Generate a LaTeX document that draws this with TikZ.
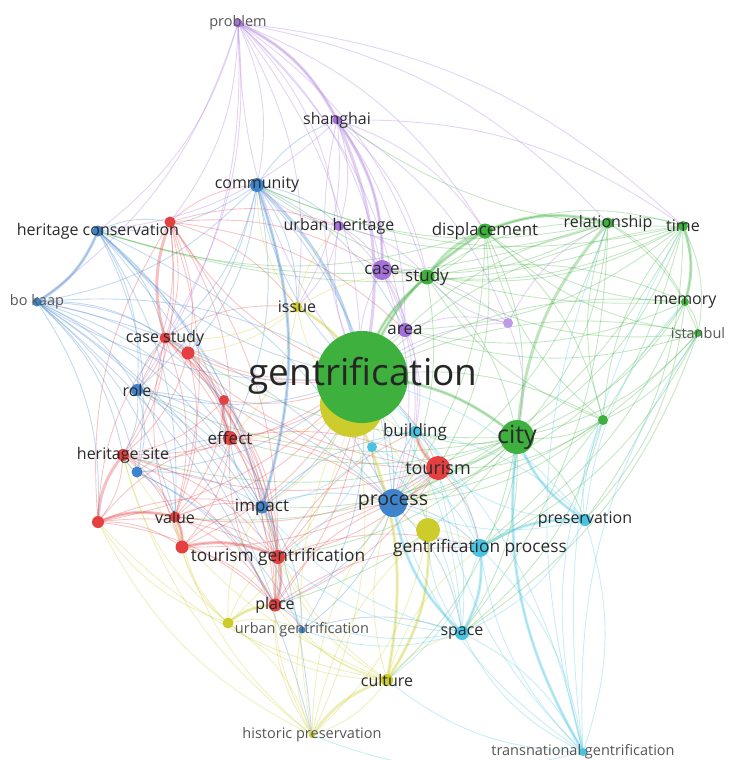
\documentclass[tikz,border=0pt]{standalone}
\usepackage{fontspec}
\setmainfont{Open Sans}

\definecolor{vred}{RGB}{228,64,66}
\definecolor{vgreen}{RGB}{62,176,62}
\definecolor{vblue}{RGB}{62,132,204}
\definecolor{vyellow}{RGB}{204,204,44}
\definecolor{vpurple}{RGB}{164,112,218}
\definecolor{vcyan}{RGB}{72,196,226}
\definecolor{lblgray}{RGB}{42,42,42}
\definecolor{softgray}{RGB}{85,85,85}

\pgfdeclarelayer{links}
\pgfsetlayers{links,main}

\tikzset{
  kw/.style={circle, fill=#1, draw=none, inner sep=0pt},
  lbl/.style={text=lblgray, inner sep=0pt},
  softlbl/.style={text=softgray, inner sep=0pt, font=\fontsize{14.5}{14.5}\selectfont},
  link/.style={draw=#1, draw opacity=.3, line width=.9pt},
  heavy/.style={draw=#1, draw opacity=.33, line width=3pt},
}

\begin{document}
\begin{tikzpicture}[x=1pt, y=-1pt]
\useasboundingbox (0,0) rectangle (730,760);

% keywords
\node[kw=vyellow, minimum size=64pt] (genY) at (352,405) {};
\node[kw=vgreen, minimum size=92pt] (gen) at (362,377) {};
\foreach \n/\c/\d/\x/\y in {
  problem/vpurple/9/238/23, shanghai/vpurple/9/337/120,
  community/vblue/14/257/185, urbher/vpurple/10/339/226,
  hercons/vblue/11/98/231, redA/vred/11/170/222,
  displ/vgreen/15/485/231, relat/vgreen/11/608/223,
  time/vgreen/10/683/226, case/vpurple/20/382/270,
  study/vgreen/15/427/277, issue/vyellow/10/297/307,
  area/vpurple/14/405/330, purpA/vpurple!70/10/508/323,
  memory/vgreen/8/685/302, istanbul/vgreen/8/698/333,
  bokaap/vblue/9/37/302, casest/vred/11/165/338,
  redB/vred/13/188/353, role/vblue/12/137/390,
  redC/vred/10/224/400, effect/vred/14/230/438,
  hersite/vred/12/123/455, blueA/vblue/11/137/472,
  redD/vred/12/98/522, value/vred/11/175/517,
  impact/vblue/13/262/507, redE/vred/13/182/547,
  tourgen/vred/14/278/557, place/vred/13/275/605,
  yelA/vyellow/11/228/623, urbgen/vblue/7/302/630,
  histpres/vyellow/6/312/735, building/vcyan/12/415/432,
  cyanA/vcyan/10/372/447, city/vgreen/34/517/437,
  greenA/vgreen/10/603/420, tourism/vred/24/438/468,
  process/vblue/28/393/503, yelB/vyellow/24/428/530,
  genproc/vcyan/18/480/548, preserv/vcyan/12/585/520,
  space/vcyan/14/462/633, culture/vyellow/12/387/680,
  transgen/vcyan/8/583/752}
  \node[kw=\c, minimum size=\d pt] (\n) at (\x,\y) {};

% labels
\node[lbl, text=black!85, font=\fontsize{37}{37}\selectfont] (gen-t) at (363,376) {gentrification};
\foreach \n/\s/\t in {
  shanghai/16/shanghai, community/16/community, urbher/16/urban heritage,
  hercons/16/heritage conservation, displ/17/displacement,
  relat/16/relationship, time/16/time, case/17/case, study/17/study,
  issue/16/issue, area/17/area, memory/16/memory, casest/16/case study,
  role/16/role, effect/17/effect, hersite/16/heritage site, value/16/value,
  impact/17/impact, tourgen/17.3/tourism gentrification, place/16/place,
  building/17/building, city/25/city, tourism/18/tourism, process/19.5/process,
  genproc/17.3/gentrification process, preserv/16/preservation,
  space/16/space, culture/16/culture}
  \node[lbl, font=\fontsize{\s}{\s}\selectfont] (\n-t) at (\n) {\t};
\foreach \n/\t in {problem/problem, istanbul/istanbul, bokaap/bo kaap,
  urbgen/urban gentrification, histpres/historic preservation,
  transgen/transnational gentrification}
  \node[softlbl] (\n-t) at (\n) {\t};

\begin{pgfonlayer}{links}
% green cluster
\foreach \a/\b in {gen/displ, gen/relat, gen/time, gen/memory, gen/istanbul,
  gen/city, gen/greenA, gen/study, displ/relat, displ/time, displ/study,
  displ/city, relat/time, relat/memory, relat/istanbul, relat/city,
  time/memory, time/istanbul, time/city, time/study, memory/istanbul,
  memory/city, istanbul/city, istanbul/greenA, greenA/city, greenA/relat,
  greenA/time, study/city, city/tourism, city/process, city/genproc,
  city/preserv, city/space, displ/greenA, study/relat, study/memory,
  istanbul/study, istanbul/displ, time/community, relat/urbher,
  displ/hercons, time/case, memory/area, city/building, city/effect,
  city/impact, city/tourgen, relat/process, time/process, istanbul/process,
  displ/process, greenA/process, memory/process, relat/hercons,
  time/shanghai, time/genproc, memory/genproc, time/hercons, relat/community,
  memory/community, istanbul/area, greenA/study, greenA/displ, memory/displ,
  city/casest, city/role, city/value, city/place, greenA/space,
  relat/space, time/preserv, memory/preserv, istanbul/space, displ/tourism,
  study/process, relat/case, time/area, istanbul/genproc, greenA/tourism,
  city/hersite, city/culture}
  \draw[link=vgreen] (\a.center) to[bend left=18] (\b.center);
\foreach \a/\b in {gen/displ, displ/relat, gen/study, gen/city, study/displ,
  city/relat, time/memory}
  \draw[heavy=vgreen] (\a.center) to[bend left=18] (\b.center);
% red cluster
\foreach \a/\b in {gen/casest, gen/redB, gen/redC, gen/effect, gen/hersite,
  gen/redD, gen/value, gen/redE, gen/tourgen, gen/place, gen/tourism,
  gen/redA, redA/casest, redA/effect, redA/hersite, redA/community,
  redA/value, redA/tourgen, casest/redB, casest/hersite, casest/value,
  casest/effect, casest/tourgen, casest/role, redB/effect, redB/redC,
  redC/effect, redC/tourgen, effect/hersite, effect/tourgen, effect/value,
  effect/tourism, hersite/redD, hersite/value, hersite/tourgen, redD/value,
  redD/redE, redD/tourgen, redD/casest, redD/place, value/redE,
  value/tourgen, redE/tourgen, redE/place, redE/casest, tourgen/place,
  tourgen/impact, place/urbgen, place/effect, tourism/tourgen,
  tourism/building, tourism/process, tourism/value, tourism/place,
  tourism/casest, tourism/genproc, redB/tourgen, redA/issue, casest/issue,
  place/process, tourgen/process, value/impact, redD/effect, hersite/place,
  redA/redB, redD/redA, redB/value, redA/urbher, redA/area, redA/case,
  redB/hersite, redB/place, redC/hersite, redC/value, redC/place,
  effect/place, effect/redE, hersite/redE, casest/place, value/place,
  tourgen/building, tourism/redE, tourism/hersite, tourism/redC,
  place/genproc, tourgen/genproc, redE/impact, redD/impact, redA/role,
  casest/impact, effect/process}
  \draw[link=vred] (\a.center) to[bend left=18] (\b.center);
\foreach \a/\b in {redD/value, value/redE, redE/tourgen, tourgen/place,
  effect/redC, tourism/building, casest/redA, redD/hersite}
  \draw[heavy=vred] (\a.center) to[bend left=18] (\b.center);
% blue cluster
\foreach \a/\b in {gen/community, gen/hercons, gen/bokaap, gen/role,
  gen/blueA, gen/impact, gen/process, gen/urbgen, community/hercons,
  community/bokaap, community/urbher, community/role, community/impact,
  community/process, community/shanghai, community/casest, hercons/bokaap,
  hercons/role, hercons/casest, hercons/blueA, hercons/impact, hercons/redA,
  bokaap/role, bokaap/casest, bokaap/hersite, bokaap/blueA, bokaap/impact,
  bokaap/value, bokaap/process, bokaap/effect, bokaap/redB, bokaap/redC,
  role/blueA, role/hersite, role/impact, role/process, role/casest,
  blueA/impact, blueA/urbgen, blueA/hersite, impact/process, impact/urbgen,
  process/urbgen, process/genproc, process/space, process/building,
  process/tourism, urbgen/space, bokaap/gen, hercons/process,
  bokaap/histpres, bokaap/urbgen, bokaap/place, bokaap/redD, hercons/histpres,
  hercons/effect, hercons/tourgen, hercons/value, community/effect,
  community/redB, community/issue, community/area, role/effect, role/value,
  role/tourgen, blueA/value, blueA/effect, blueA/place, impact/place,
  impact/effect, impact/building, process/place, process/cyanA}
  \draw[link=vblue] (\a.center) to[bend left=18] (\b.center);
\foreach \a/\b in {community/gen, community/impact, hercons/bokaap}
  \draw[heavy=vblue] (\a.center) to[bend left=18] (\b.center);
% purple cluster
\foreach \a/\b in {gen/problem, gen/shanghai, gen/urbher, gen/case,
  gen/area, gen/purpA, problem/shanghai, problem/urbher, problem/community,
  problem/case, problem/area, problem/hercons, problem/displ, problem/issue,
  problem/casest, problem/role, problem/study, shanghai/urbher,
  shanghai/case, shanghai/area, shanghai/study, shanghai/purpA,
  shanghai/hercons, shanghai/displ, urbher/case, urbher/area, case/area,
  area/purpA, case/purpA, urbher/issue, area/process, case/process,
  purpA/city, problem/gen, problem/bokaap, problem/redA, problem/time,
  problem/relat, shanghai/issue, shanghai/time, urbher/study, case/study,
  case/building, area/building, purpA/relat, purpA/study, urbher/community}
  \draw[link=vpurple] (\a.center) to[bend left=18] (\b.center);
\foreach \a/\b in {problem/shanghai, shanghai/case, shanghai/gen}
  \draw[heavy=vpurple] (\a.center) to[bend left=18] (\b.center);
% yellow cluster
\foreach \a/\b in {genY/issue, genY/yelB, genY/culture, genY/histpres,
  genY/yelA, issue/casest, issue/community, issue/urbher, yelB/culture,
  yelB/histpres, yelB/process, culture/histpres, culture/yelA, yelA/place,
  yelA/histpres, yelA/tourgen, yelA/value, culture/process, culture/genproc,
  histpres/urbgen, histpres/process, histpres/redD, histpres/hersite,
  culture/space, culture/urbgen, culture/impact, histpres/yelB, yelA/urbgen,
  issue/gen, histpres/gen, yelA/redD, yelA/hersite, yelA/redE, yelA/impact,
  histpres/value, histpres/tourgen, histpres/place, culture/place,
  culture/tourgen, culture/redD, culture/hersite, yelB/tourism, yelB/genproc,
  issue/redB, issue/effect, issue/study, genY/effect, genY/impact,
  genY/tourism}
  \draw[link=vyellow] (\a.center) to[bend left=18] (\b.center);
\foreach \a/\b in {genY/culture, yelB/culture, yelA/place, histpres/culture,
  issue/gen}
  \draw[heavy=vyellow] (\a.center) to[bend left=18] (\b.center);
% cyan cluster
\foreach \a/\b in {gen/building, gen/cyanA, gen/genproc, gen/preserv,
  gen/space, gen/transgen, building/genproc, building/preserv, cyanA/space,
  cyanA/building, cyanA/genproc, genproc/preserv, genproc/space,
  genproc/transgen, preserv/space, preserv/transgen, space/transgen,
  preserv/city, transgen/city, transgen/process, transgen/culture,
  transgen/histpres, transgen/relat, transgen/time, space/urbgen,
  space/yelB, genproc/yelB, space/process, preserv/process,
  transgen/istanbul, transgen/greenA, transgen/space, transgen/genproc,
  transgen/tourism, space/tourgen, space/place, space/impact,
  preserv/tourism, preserv/greenA, building/space, building/process,
  cyanA/tourgen, cyanA/impact, genproc/culture, preserv/memory}
  \draw[link=vcyan] (\a.center) to[bend left=18] (\b.center);
\foreach \a/\b in {genproc/space, space/process, preserv/city,
  genproc/preserv, transgen/city}
  \draw[heavy=vcyan] (\a.center) to[bend left=18] (\b.center);
\end{pgfonlayer}
\end{tikzpicture}
\end{document}
